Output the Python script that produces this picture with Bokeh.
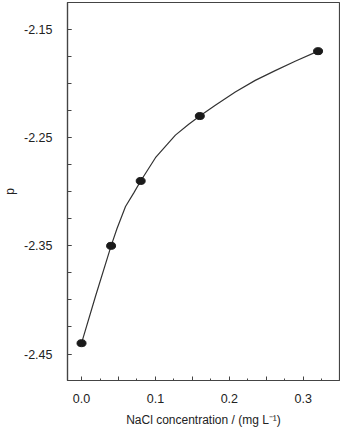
from bokeh.plotting import figure
from bokeh.embed import file_html
from bokeh.resources import INLINE
from bokeh.models import FixedTicker, CustomJSTickFormatter, Range1d

# measured points
conc = [0.0, 0.04, 0.08, 0.16, 0.32]
p_val = [-2.44, -2.35, -2.29, -2.23, -2.17]

# smooth curve
curve_x = [0.0, 0.019, 0.04, 0.048, 0.0595, 0.0707, 0.08, 0.1, 0.127, 0.145, 0.16,
           0.181, 0.208, 0.235, 0.262, 0.289, 0.32]
curve_y = [-2.44, -2.3964, -2.35, -2.334, -2.3136, -2.301, -2.29, -2.2685, -2.2476, -2.2375, -2.23,
           -2.22, -2.2078, -2.197, -2.188, -2.1793, -2.17]

x_major = [0.0, 0.05, 0.1, 0.15, 0.2, 0.25, 0.3]
x_minor = [0.025, 0.075, 0.125, 0.175, 0.225, 0.275, 0.325]
y_major = [-2.45, -2.35, -2.25, -2.15]
y_minor = [-2.45 + 0.025 * i for i in range(14)]

p = figure(width=340, height=429, output_backend="svg", toolbar_location=None,
           x_range=Range1d(-0.019, 0.349), y_range=Range1d(-2.4745, -2.125),
           min_border_left=67, min_border_right=1, min_border_top=2, min_border_bottom=47)
p.grid.visible = False
p.background_fill_color = "white"
p.border_fill_color = "white"
p.outline_line_color = "#444444"
p.outline_line_width = 1.2

p.line(curve_x, curve_y, line_color="#333333", line_width=1.2)
p.ellipse(conc, p_val, width=9, height=7, width_units="screen", height_units="screen",
          fill_color="#1a1a1a", line_color="#1a1a1a")

xa = p.xaxis[0]
xa.ticker = FixedTicker(ticks=x_major, minor_ticks=x_minor)
xa.formatter = CustomJSTickFormatter(code="""
const k = Math.round(tick * 100);
return (k % 10 === 0) ? tick.toFixed(1) : "";
""")
xa.axis_label = "NaCl concentration / (mg L⁻¹)"

ya = p.yaxis[0]
ya.ticker = FixedTicker(ticks=y_major, minor_ticks=y_minor)
ya.formatter = CustomJSTickFormatter(code="return tick.toFixed(2);")
ya.axis_label = "p"

for ax in (xa, ya):
    ax.axis_line_color = "#444444"
    ax.axis_line_width = 1.2
    ax.major_tick_in = 4
    ax.major_tick_out = 0
    ax.major_tick_line_color = "#444444"
    ax.major_tick_line_width = 1
    ax.minor_tick_line_color = "#444444"
    ax.minor_tick_line_width = 1
    ax.major_label_text_font = "Liberation Sans"
    ax.major_label_text_font_size = "12.5px"
    ax.major_label_text_color = "#222222"
    ax.axis_label_text_font = "Liberation Sans"
    ax.axis_label_text_font_size = "12px"
    ax.axis_label_text_font_style = "normal"
    ax.axis_label_text_color = "#222222"

xa.minor_tick_in = 2
xa.minor_tick_out = 0
ya.minor_tick_in = 4
ya.minor_tick_out = 0
xa.major_label_standoff = 13
xa.axis_label_standoff = 7
ya.major_label_standoff = 15
ya.axis_label_standoff = 4

open("out.html", "w").write(file_html(p, INLINE))
